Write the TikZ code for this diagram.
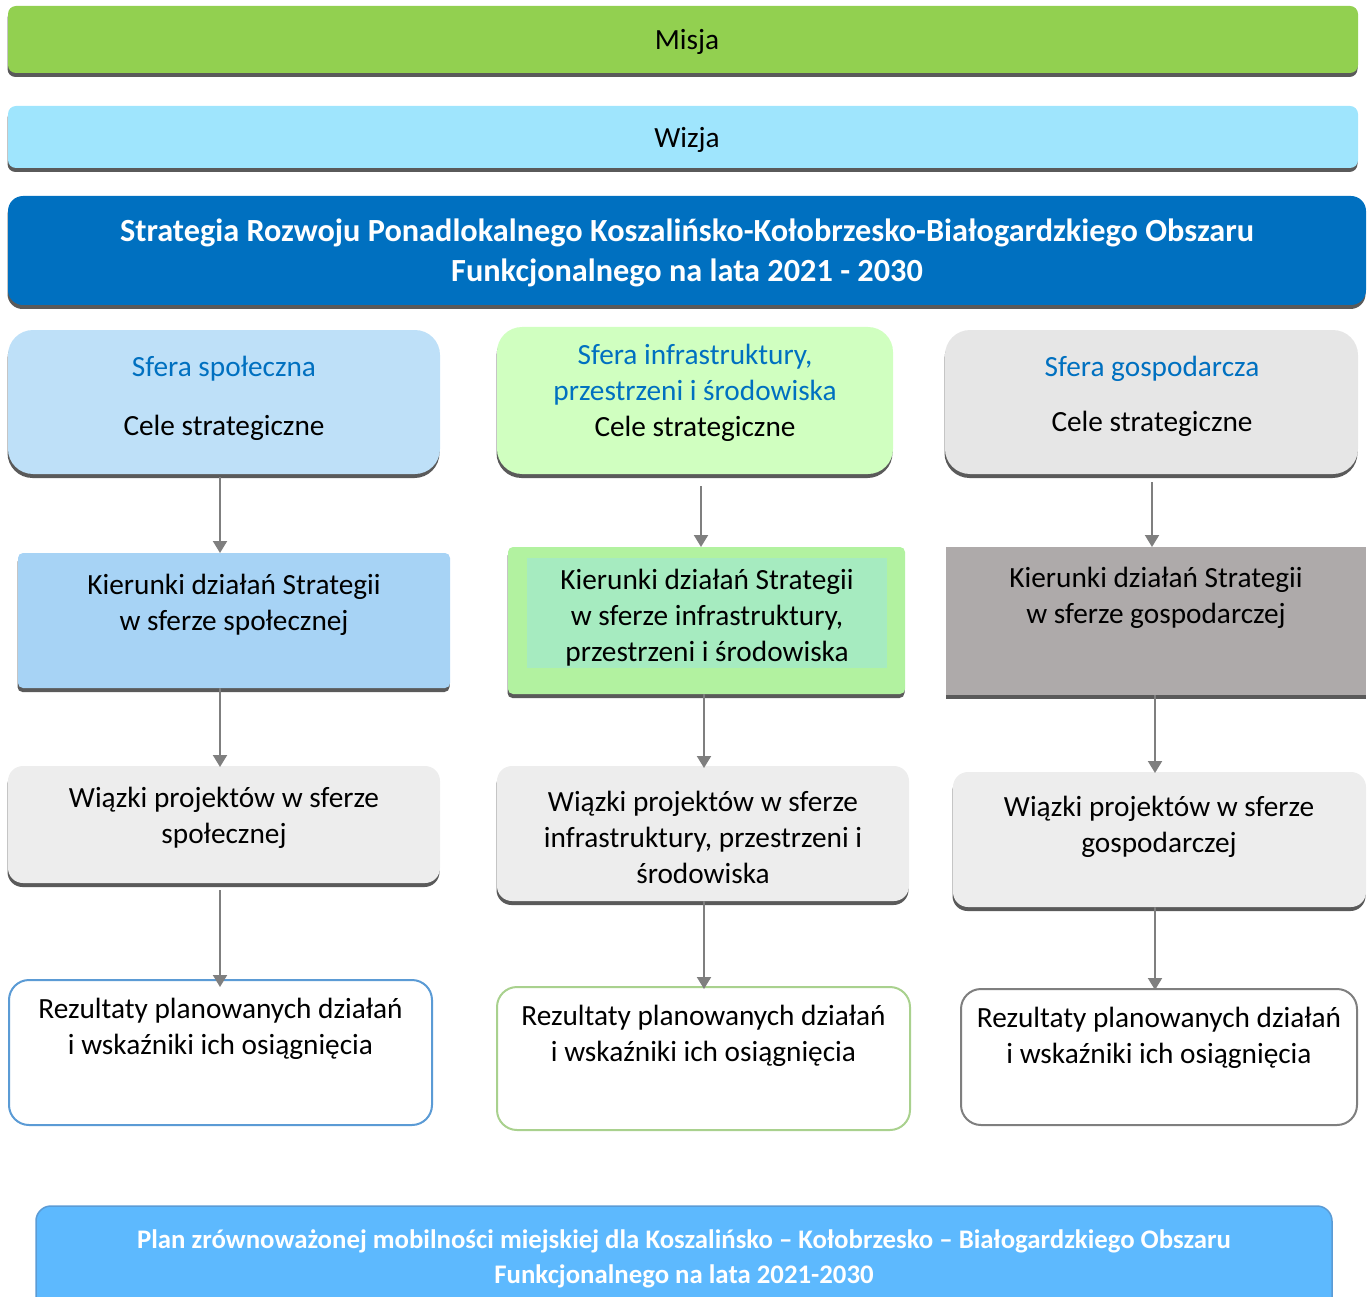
\documentclass[tikz,border=0pt]{standalone}
\usepackage{fontspec}
\setmainfont{Carlito}
\usetikzlibrary{arrows.meta,shadows}
\definecolor{cMisja}{HTML}{92D050}
\definecolor{cWizja}{HTML}{9FE5FD}
\definecolor{cStrat}{HTML}{0070C0}
\definecolor{cSpol}{HTML}{BEE0F8}
\definecolor{cInfra}{HTML}{D0FFC0}
\definecolor{cGosp}{HTML}{E6E6E6}
\definecolor{cKSpol}{HTML}{A7D3F5}
\definecolor{cKInfra}{HTML}{B2F2A0}
\definecolor{cKInfraIn}{HTML}{A6EBC0}
\definecolor{cKGosp}{HTML}{AEAAAA}
\definecolor{cWiaz}{HTML}{EDEDED}
\definecolor{cPlan}{HTML}{5DB9FE}
\definecolor{cPlanB}{HTML}{5B9BD5}
\definecolor{cBlueT}{HTML}{0070C0}
\definecolor{cArrow}{HTML}{7F7F7F}
\definecolor{cShadow}{HTML}{5A5A5A}
\definecolor{cRSpol}{HTML}{5B9BD5}
\definecolor{cRInfra}{HTML}{A9D18E}
\definecolor{cRGosp}{HTML}{7F7F7F}
\tikzset{
  box/.style={draw=none, inner sep=0pt, outer sep=0pt},
  shad/.style={drop shadow={shadow xshift=-0.5pt, shadow yshift=-4pt, fill=cShadow, opacity=1}},
  txt/.style={inner sep=0pt, align=center, yshift=-2.5pt, font=\fontsize{29.3}{36}\selectfont},
  btxt/.style={inner sep=0pt, align=center, text=white, font=\fontsize{32.3}{40}\selectfont\bfseries},
  ptxt/.style={inner sep=0pt, align=center, text=white, font=\fontsize{26.8}{35}\selectfont\bfseries},
  arr/.style={draw=cArrow, line width=2pt, -{Triangle[width=14pt,length=12pt]}},
  res/.style={box, fill=white, line width=2pt, rounded corners=20pt}
}
\begin{document}
\begin{tikzpicture}[x=1pt,y=-1pt]
\useasboundingbox (0,0) rectangle (1368,1297);
% top bands
\node[box, shad, fill=cMisja, rounded corners=8pt, minimum width=1350pt, minimum height=67pt] (misja) at (683,39.5) {};
\node[txt] (tMisja) at (687,39.5) {Misja};
\node[box, shad, fill=cWizja, rounded corners=8pt, minimum width=1350pt, minimum height=62pt] (wizja) at (683,137) {};
\node[txt] (tWizja) at (687,137) {Wizja};
\node[box, shad, fill=cStrat, rounded corners=15pt, minimum width=1358pt, minimum height=109pt] (strat) at (687,250.5) {};
\node[btxt] (tStrat) at (687,253) {Strategia Rozwoju Ponadlokalnego Koszalińsko-Kołobrzesko-Białogardzkiego Obszaru\\Funkcjonalnego na lata 2021 - 2030};
% row 1
\node[box, shad, fill=cSpol, rounded corners=25pt, minimum width=432pt, minimum height=144pt] (s1) at (224,402) {};
\node[txt, text=cBlueT] (s1a) at (224,366) {Sfera społeczna};
\node[txt] (s1b) at (224,425) {Cele strategiczne};
\node[box, shad, fill=cInfra, rounded corners=25pt, minimum width=396pt, minimum height=147pt] (i1) at (695,400.5) {};
\node[txt, text=cBlueT] (i1a) at (695,372) {Sfera infrastruktury,\\przestrzeni i środowiska};
\node[txt] (i1b) at (695,426) {Cele strategiczne};
\node[box, shad, fill=cGosp, rounded corners=25pt, minimum width=413pt, minimum height=144pt] (g1) at (1151.5,402) {};
\node[txt, text=cBlueT] (g1a) at (1152,366) {Sfera gospodarcza};
\node[txt] (g1b) at (1152,421) {Cele strategiczne};
% row 2
\node[box, shad, fill=cKSpol, rounded corners=5pt, minimum width=432pt, minimum height=135pt] (s2) at (234,620.5) {};
\node[txt] (s2t) at (234,602) {Kierunki działań Strategii\\w sferze społecznej};
\node[box, shad, fill=cKInfra, rounded corners=5pt, minimum width=397pt, minimum height=147pt] (i2) at (706.5,620.5) {};
\node[box, fill=cKInfraIn, minimum width=360pt, minimum height=110pt] (i2in) at (707,613) {};
\node[txt] (i2t) at (707,615) {Kierunki działań Strategii\\w sferze infrastruktury,\\przestrzeni i środowiska};
\node[box, shad, fill=cKGosp, minimum width=420pt, minimum height=148pt] (g2) at (1156,621) {};
\node[txt] (g2t) at (1156,595) {Kierunki działań Strategii\\w sferze gospodarczej};
% row 3
\node[box, shad, fill=cWiaz, rounded corners=15pt, minimum width=432pt, minimum height=117pt] (s3) at (224,824.5) {};
\node[txt] (s3t) at (224,815) {Wiązki projektów w sferze\\społecznej};
\node[box, shad, fill=cWiaz, rounded corners=15pt, minimum width=412pt, minimum height=135pt] (i3) at (703,833.5) {};
\node[txt] (i3t) at (703,835) {Wiązki projektów w sferze\\infrastruktury, przestrzeni i\\środowiska};
\node[box, shad, fill=cWiaz, rounded corners=15pt, minimum width=413pt, minimum height=135pt] (g3) at (1159.5,839.5) {};
\node[txt] (g3t) at (1159,824) {Wiązki projektów w sferze\\gospodarczej};
% row 4
\node[res, draw=cRSpol, minimum width=423pt, minimum height=145pt] (s4) at (220.5,1052.5) {};
\node[txt] (s4t) at (220.5,1026) {Rezultaty planowanych działań\\i wskaźniki ich osiągnięcia};
\node[res, draw=cRInfra, minimum width=413pt, minimum height=143pt] (i4) at (703.5,1058.5) {};
\node[txt] (i4t) at (703.5,1033) {Rezultaty planowanych działań\\i wskaźniki ich osiągnięcia};
\node[res, draw=cRGosp, minimum width=396pt, minimum height=136pt] (g4) at (1159,1057) {};
\node[txt] (g4t) at (1159,1035) {Rezultaty planowanych działań\\i wskaźniki ich osiągnięcia};
% bottom
\node[box, draw=cPlanB, line width=1.5pt, fill=cPlan, rounded corners=15pt, minimum width=1296pt, minimum height=120pt] (plan) at (684,1266) {};
\node[ptxt] (tPlan) at (684,1259) {Plan zrównoważonej mobilności miejskiej dla Koszalińsko – Kołobrzesko – Białogardzkiego Obszaru\\Funkcjonalnego na lata 2021-2030};
% arrows
\coordinate (axL) at (220,0);
\coordinate (axM) at (701,0);
\coordinate (axM2) at (704,0);
\coordinate (axR) at (1152,0);
\coordinate (axR2) at (1155,0);
\draw[arr] ([yshift=-3pt]s1.south -| axL) -- (s2.north -| axL);
\draw[arr] ([yshift=-12pt]i1.south -| axM) -- (i2.north -| axM);
\draw[arr] ([yshift=-8pt]g1.south -| axR) -- (g2.north -| axR);
\draw[arr] (s2.south -| axL) -- ([yshift=-1pt]s3.north -| axL);
\draw[arr] (i2.south -| axM2) -- ([yshift=-2pt]i3.north -| axM2);
\draw[arr] (g2.south -| axR2) -- ([yshift=-1pt]g3.north -| axR2);
\draw[arr] ([yshift=-7pt]s3.south -| axL) -- ([yshift=-7pt]s4.north -| axL);
\draw[arr] (i3.south -| axM2) -- ([yshift=-2pt]i4.north -| axM2);
\draw[arr] (g3.south -| axR2) -- ([yshift=-1pt]g4.north -| axR2);
\end{tikzpicture}
\end{document}
